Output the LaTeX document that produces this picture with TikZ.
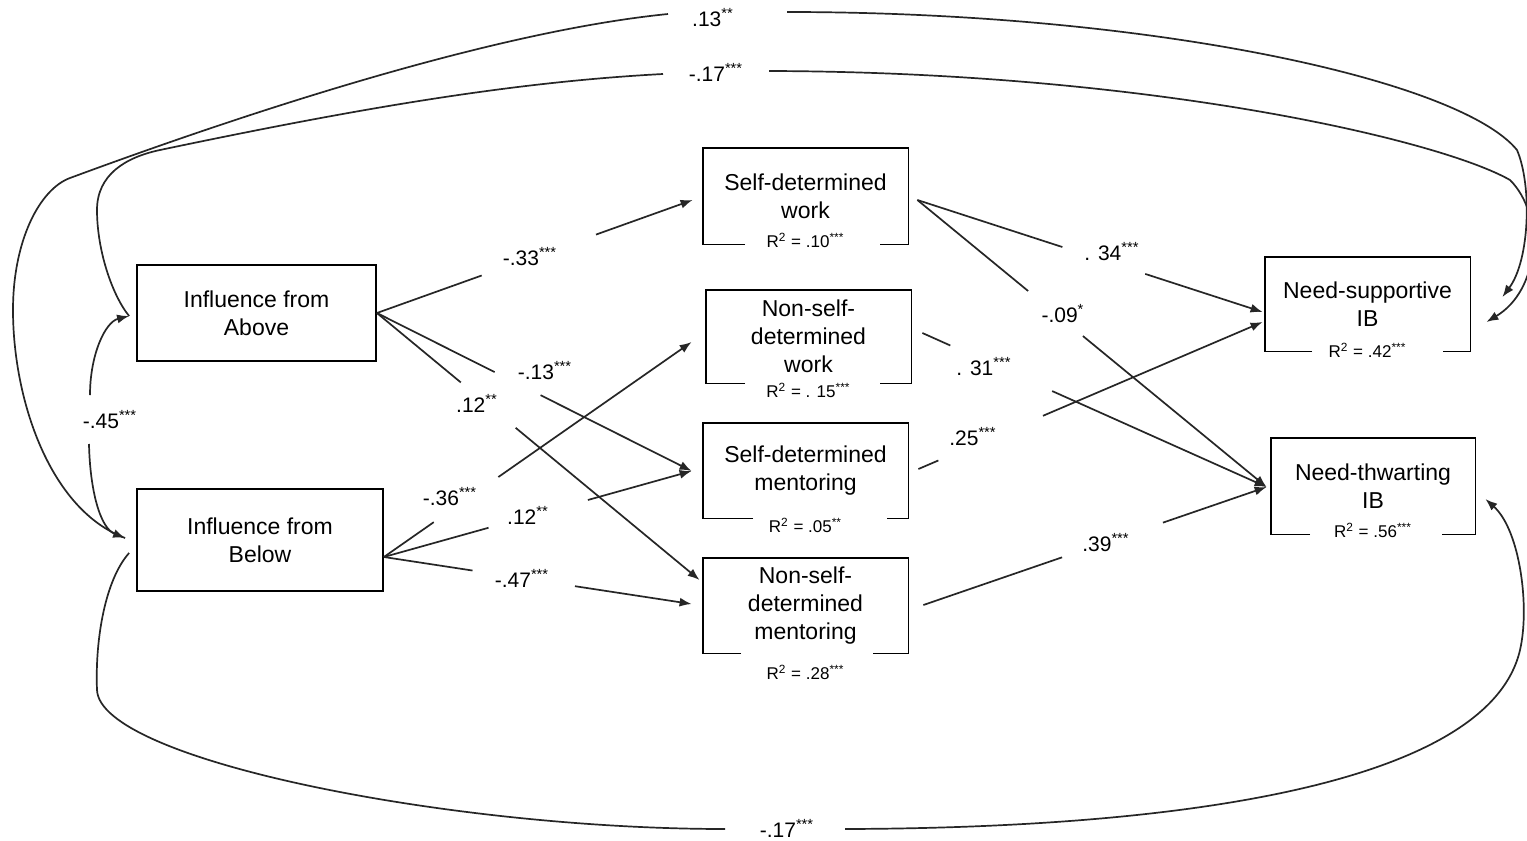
\documentclass[tikz,border=0pt]{standalone}
\usepackage{fontspec}
\setmainfont{Liberation Sans}
\usetikzlibrary{calc,arrows.meta}
\newcommand{\fbx}{\fontsize{11.5}{14}\selectfont}
\newcommand{\flb}{\fontsize{10.5}{12}\selectfont}
\newcommand{\frr}{\fontsize{8.5}{10}\selectfont}
\newcommand{\sig}[1]{\textsuperscript{#1}}
\newcommand{\gapconn}[4]{%
  \draw[conn] (#1) -- ($(#1)!#3!(#2)$);
  \draw[arr] ($(#1)!#4!(#2)$) -- (#2);}
\newcommand{\gapbox}[5]{%
  \draw[boxline] ($(#1.south)+(#4,0)$) -- (#1.south west) -- (#1.north west) -- (#1.north east) -- (#1.south east) -- ($(#1.south)+(#5,0)$);
  \node[r2] (#1r) at ($(#1.south)+(0,#3)$) {#2};}
\tikzset{
  conn/.style={line width=0.85pt, black!85},
  arr/.style={conn, -{Latex[length=6pt,width=4.5pt]}},
  boxline/.style={line width=0.9pt},
  vbox/.style={inner sep=0pt, align=center, font=\fbx},
  lbl/.style={inner sep=0pt, font=\flb},
  r2/.style={inner sep=0pt, font=\frr},
}
\begin{document}
\begin{tikzpicture}[x=0.5pt,y=-0.5pt]
\useasboundingbox (0,0) rectangle (1527,841);
\fill[white] (0,0) rectangle (1527,841);

% boxes
\node[vbox, draw, boxline, minimum width=119.5pt, minimum height=48pt] (above) at (256.5,313) {Influence from\\Above};
\node[vbox, draw, boxline, minimum width=123pt, minimum height=51pt] (below) at (260,540) {Influence from\\Below};
\node[vbox, minimum width=102.5pt, minimum height=48pt] (sdw) at (805.5,196) {Self-determined\\work};
\node[vbox, minimum width=102.5pt, minimum height=46.5pt] (nsdw) at (808.5,336.5) {Non-self-\\determined\\work};
\node[vbox, minimum width=102.5pt, minimum height=47.5pt] (sdm) at (805.5,470.5) {Self-determined\\mentoring};
\node[vbox, minimum width=102.5pt, minimum height=47.5pt] (nsdm) at (805.5,605.5) {Non-self-\\determined\\mentoring};
\node[vbox, minimum width=102.5pt, minimum height=47pt] (nsIB) at (1367.5,304) {Need-supportive\\IB};
\node[vbox, minimum width=102pt, minimum height=48pt] (ntIB) at (1373,486) {Need-thwarting\\IB};

\gapbox{sdw}{R\sig{2} = .10\sig{***}}{-4}{-60.5}{74.5}
\gapbox{nsdw}{R\sig{2} = . 15\sig{***}}{7}{-63.5}{71.5}
\gapbox{sdm}{R\sig{2} = .05\sig{**}}{7}{-52.5}{81.5}
\gapbox{nsdm}{R\sig{2} = .28\sig{***}}{19}{-64.5}{67.5}
\gapbox{nsIB}{R\sig{2} = .42\sig{***}}{-1}{-55.5}{75.5}
\gapbox{ntIB}{R\sig{2} = .56\sig{***}}{-4}{-63}{69}

% anchor coordinates
\coordinate (aE) at (above.east);
\coordinate (bE) at ($(below.east)+(0,17)$);
\coordinate (sdwL) at ($(sdw.west)+(-10,4)$);
\coordinate (nsdwL) at ($(nsdw.west)+(-14,5.5)$);
\coordinate (sdmL) at ($(sdm.west)+(-11,0.5)$);
\coordinate (nsdmT) at ($(nsdm.west)+(-3,-25.5)$);
\coordinate (nsdmL) at ($(nsdm.west)+(-11,-1.5)$);
\coordinate (sdwR) at ($(sdw.east)+(9,4)$);
\coordinate (nsdwR) at ($(nsdw.east)+(11,-3.5)$);
\coordinate (sdmR) at ($(sdm.east)+(10,-1.5)$);
\coordinate (nsdmR) at ($(nsdm.east)+(15,-0.5)$);
\coordinate (nsIBa) at ($(nsIB.west)+(-2,8)$);
\coordinate (nsIBb) at ($(nsIB.west)+(-2,18)$);
\coordinate (ntIBL) at ($(ntIB.west)+(-4,1)$);
\coordinate (aW) at ($(above.west)+(-7,3)$);
\coordinate (bW) at ($(below.west)+(-11,-2)$);
\coordinate (bW2) at ($(below.west)+(-7,13)$);
\coordinate (nsIBr1) at ($(nsIB.east)+(32,-7)$);
\coordinate (nsIBr2) at ($(nsIB.east)+(16,18)$);
\coordinate (ntIBr) at ($(ntIB.east)+(10,13)$);

% left paths
\gapconn{aE}{sdwL}{0.332}{0.694}
\node[lbl] (l33) at (530,257) {-.33\sig{***}};
\gapconn{aE}{sdmL}{0.374}{0.52}
\node[lbl] (l13) at (545,371) {-.13\sig{***}};
\gapconn{aE}{nsdmT}{0.26}{0.43}
\node[lbl] (l12a) at (477,403) {.12\sig{**}};
\gapconn{bE}{nsdwL}{0.162}{0.372}
\node[lbl] (l36) at (450,497) {-.36\sig{***}};
\gapconn{bE}{sdmL}{0.34}{0.663}
\node[lbl] (l12b) at (528,515) {.12\sig{**}};
\gapconn{bE}{nsdmL}{0.288}{0.621}
\node[lbl] (l47) at (522,578) {-.47\sig{***}};

% right paths
\gapconn{sdwR}{nsIBa}{0.42}{0.66}
\node[lbl] (l34) at (1112,252) {. 34\sig{***}};
\gapconn{sdwR}{ntIBL}{0.317}{0.474}
\node[lbl] (l09) at (1063,314) {-.09\sig{*}};
\gapconn{nsdwR}{ntIBL}{0.081}{0.377}
\node[lbl] (l31) at (984,367) {. 31\sig{***}};
\gapconn{sdmR}{nsIBb}{0.058}{0.362}
\node[lbl] (l25) at (973,437) {.25\sig{***}};
\gapconn{nsdmR}{ntIBL}{0.404}{0.698}
\node[lbl] (l39) at (1106,543) {.39\sig{***}};

% curved paths
\coordinate (g13a) at (668,14);
\coordinate (g13b) at (787,12);
\draw[conn] (bW) .. controls (50,510) and (13,400) .. (13,310) .. controls (13,240) and (40,189) .. (70,178) .. controls (300,93) and (518,29) .. (g13a);
\draw[arr] (g13b) .. controls (1150,12) and (1460,80) .. (1517,150) .. controls (1532,185) and (1530,260) .. (nsIBr1);
\node[lbl] (l13b) at (713,18) {.13\sig{**}};

\coordinate (g17a) at (663,74);
\coordinate (g17b) at (769,71);
\draw[conn] (aW) .. controls (112,295) and (97,250) .. (97,210) .. controls (97,175) and (125,157.4) .. (160,150) .. controls (360,108) and (513,82) .. (g17a);
\draw[arr] (g17b) .. controls (1150,72) and (1440,140) .. (1510,180) .. controls (1545,215) and (1540,290) .. (nsIBr2);
\node[lbl] (l17a) at (716,72) {-.17\sig{***}};

\coordinate (g45a) at (90,395);
\coordinate (g45b) at (89,444);
\draw[arr] (g45a) .. controls (90,355) and (105,322) .. (aW);
\draw[arr] (g45b) .. controls (90,490) and (100,528) .. (bW);
\node[lbl] (l45) at (110,420) {-.45\sig{***}};

\coordinate (g17c) at (725,829);
\coordinate (g17d) at (845,829);
\draw[conn] (bW2) .. controls (105,580) and (95,640) .. (97,690) .. controls (100,760) and (450,829) .. (g17c);
\draw[arr] (g17d) .. controls (1200,828) and (1490,780) .. (1520,650) .. controls (1530,607) and (1520,530) .. (ntIBr);
\node[lbl] (l17b) at (787,828) {-.17\sig{***}};
\end{tikzpicture}
\end{document}
